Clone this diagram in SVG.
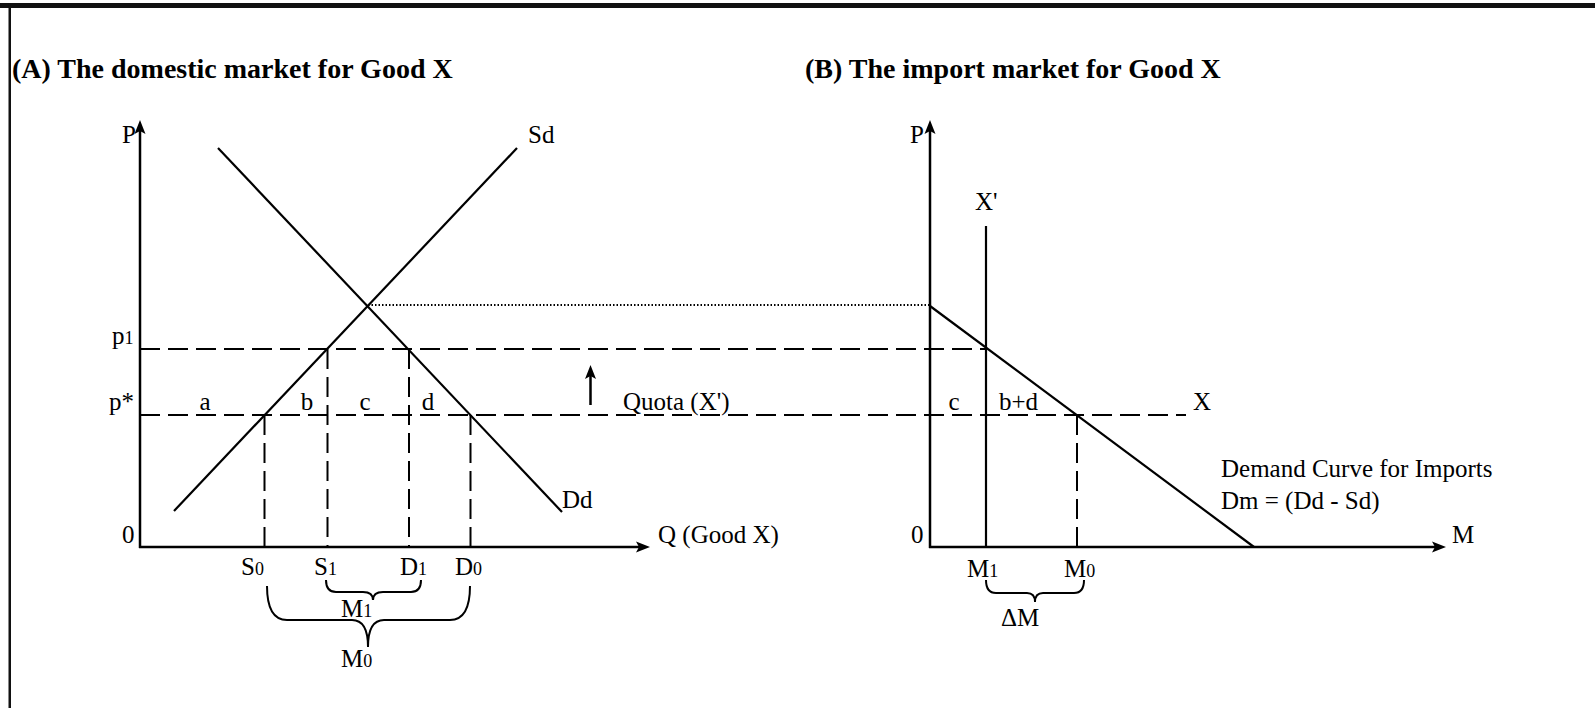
<svg xmlns="http://www.w3.org/2000/svg" width="1595" height="708" viewBox="0 0 1595 708">
<style>
.t{font-family:"Liberation Serif","Times New Roman",serif;font-size:25px;fill:#000}
.title{font-family:"Liberation Serif","Times New Roman",serif;font-size:28px;font-weight:bold;fill:#000}
.sub{font-size:18px}
.axis{stroke:#000;stroke-width:2.5;fill:none}
.curve{stroke:#000;stroke-width:2.2;fill:none}
.dash{stroke:#000;stroke-width:2;fill:none;stroke-dasharray:20 8}
.dot{stroke:#000;stroke-width:1.8;fill:none;stroke-dasharray:1.5 2}
.brace{stroke:#000;stroke-width:2;fill:none}
</style>
<defs>
<marker id="ah" viewBox="0 0 14 12" refX="6" refY="6" markerWidth="14" markerHeight="12" markerUnits="userSpaceOnUse" orient="auto">
<path d="M0,0.5 L14,6 L0,11.5 L3,6 z" fill="#000"/>
</marker>
</defs>
<rect width="1595" height="708" fill="#fff"/>
<g id="frame">
<rect x="0" y="3" width="1595" height="5" fill="#111"/>
<rect x="8.5" y="3" width="2.5" height="705" fill="#111"/>
</g>
<g id="titles">
<text class="title" x="12" y="78">(A) The domestic market for Good X</text>
<text class="title" x="805" y="78">(B) The import market for Good X</text>
</g>
<g id="panelA">
<line class="axis" x1="140" y1="548" x2="140" y2="128" marker-end="url(#ah)"/>
<line class="axis" x1="139" y1="547" x2="642" y2="547" marker-end="url(#ah)"/>
<line class="curve" x1="174" y1="511" x2="517" y2="148"/>
<line class="curve" x1="218" y1="148" x2="562" y2="512"/>
<line class="dot" x1="368" y1="305" x2="930" y2="305"/>
<line class="dash" x1="140" y1="349" x2="986" y2="349"/>
<line class="dash" x1="140" y1="415" x2="1186" y2="415"/>
<line class="dash" x1="264.5" y1="415" x2="264.5" y2="547"/>
<line class="dash" x1="327.5" y1="349" x2="327.5" y2="547"/>
<line class="dash" x1="409" y1="349" x2="409" y2="547"/>
<line class="dash" x1="470.5" y1="415" x2="470.5" y2="547"/>
<line class="axis" x1="590.5" y1="405" x2="590.5" y2="373" marker-end="url(#ah)"/>
<path class="brace" d="M326,580 Q326,592 336,592 L363,592 Q373,592 373,600 Q373,592 383,592 L411,592 Q421,592 421,580"/>
<path class="brace" d="M267,586 Q267,620 287,620 L352,620 Q368,620 368,647 Q368,620 384,620 L450,620 Q470,620 470,586"/>
<text class="t" x="122" y="143">P</text>
<text class="t" x="528" y="143">Sd</text>
<text class="t" x="112" y="344">p<tspan class="sub">1</tspan></text>
<text class="t" x="109" y="410">p*</text>
<text class="t" x="122" y="543">0</text>
<text class="t" x="205" y="410" text-anchor="middle">a</text>
<text class="t" x="307" y="410" text-anchor="middle">b</text>
<text class="t" x="365" y="410" text-anchor="middle">c</text>
<text class="t" x="428" y="410" text-anchor="middle">d</text>
<text class="t" x="623" y="410">Quota (X')</text>
<text class="t" x="562" y="508">Dd</text>
<text class="t" x="658" y="543">Q (Good X)</text>
<text class="t" x="241" y="575">S<tspan class="sub">0</tspan></text>
<text class="t" x="314" y="575">S<tspan class="sub">1</tspan></text>
<text class="t" x="400" y="575">D<tspan class="sub">1</tspan></text>
<text class="t" x="455" y="575">D<tspan class="sub">0</tspan></text>
<text class="t" x="341" y="617">M<tspan class="sub">1</tspan></text>
<text class="t" x="341" y="667">M<tspan class="sub">0</tspan></text>
</g>
<g id="panelB">
<line class="axis" x1="930" y1="548" x2="930" y2="128" marker-end="url(#ah)"/>
<line class="axis" x1="929" y1="547" x2="1438" y2="547" marker-end="url(#ah)"/>
<line class="curve" x1="986" y1="226" x2="986" y2="547"/>
<line class="curve" x1="930" y1="306" x2="1254" y2="547"/>
<line class="dash" x1="1077" y1="415" x2="1077" y2="547"/>
<path class="brace" d="M986,580 Q986,593 996,593 L1027,593 Q1035,593 1035,602 Q1035,593 1043,593 L1074,593 Q1084,593 1084,580"/>
<text class="t" x="910" y="143">P</text>
<text class="t" x="975" y="210">X'</text>
<text class="t" x="954" y="410" text-anchor="middle">c</text>
<text class="t" x="999" y="410">b+d</text>
<text class="t" x="1193" y="410">X</text>
<text class="t" x="1221" y="477">Demand Curve for Imports</text>
<text class="t" x="1221" y="509">Dm = (Dd - Sd)</text>
<text class="t" x="911" y="543">0</text>
<text class="t" x="1452" y="543">M</text>
<text class="t" x="967" y="577">M<tspan class="sub">1</tspan></text>
<text class="t" x="1064" y="577">M<tspan class="sub">0</tspan></text>
<text class="t" x="1001" y="626">ΔM</text>
</g>
</svg>
